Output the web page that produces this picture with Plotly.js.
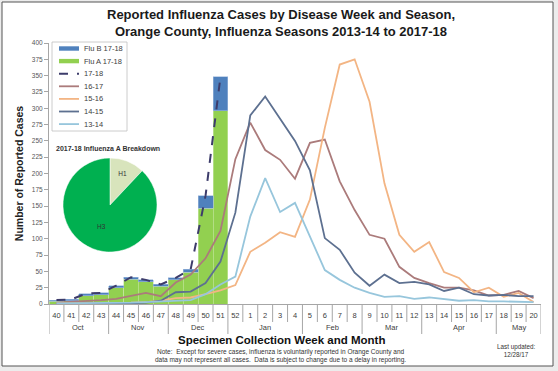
<!DOCTYPE html>
<html>
<head>
<meta charset="utf-8">
<script src="https://cdn.plot.ly/plotly-3.0.1.min.js"></script>
<style>
html,body{margin:0;padding:0;background:#ececec;}
#chart{width:558px;height:371px;}
</style>
</head>
<body>
<div id="chart"></div>
<script>
// ---- data ----
const weeks = ['40','41','42','43','44','45','46','47','48','49','50','51','52',
  '1','2','3','4','5','6','7','8','9','10','11','12','13','14','15','16','17','18','19','20'];
const months = ['Oct','Nov','Dec','Jan','Feb','Mar','Apr','May'];
const monthWeekCounts = [4,4,4,5,4,4,5,3];

const barWeeks = ['40','41','42','43','44','45','46','47','48','49','50','51'];
const fluA1718 = [4,5,13,14,25,38,34,27,37,49,147,296];
const fluB1718 = [2,2,3,3,3,3,3,3,3,4,19,52];
const s1718 = [6,7,16,17,28,41,37,30,40,53,166,348];

const s1617 = [2,3,5,6,8,12,17,12,33,45,70,112,222,278,236,221,192,247,252,188,144,106,100,57,40,32,25,25,21,13,14,20,9];
const s1516 = [1,1,2,2,1,2,3,5,9,10,15,21,29,80,94,110,103,160,270,367,375,310,185,106,80,95,49,40,18,25,11,17,3];
const s1415 = [0,0,1,1,1,1,2,5,18,19,32,65,140,289,318,283,250,205,101,83,48,28,45,32,34,30,20,25,15,13,14,12,12];
const s1314 = [1,1,1,2,1,2,3,4,5,6,15,30,42,134,193,141,155,103,52,37,25,17,11,12,8,10,7,5,6,4,4,3,3];

const pieLabels = ['H1','H3'];
const pieValues = [12,88];

const lineNames = ['17-18','16-17','15-16','14-15','13-14'];
const lineColors = ['#3d3c6b','#ab7b7b','#f3b584','#5d7090','#97c6dc'];

// ---- geometry helpers (plot area in px) ----
const L = 49, R = 541, T = 43, B = 304;
const px = x => (x - L) / (R - L);
const py = y => (B - y) / (B - T);
const FONT = 'Liberation Sans, Arial, sans-serif';

const traces = [];
traces.push({type:'bar', x:barWeeks, y:fluA1718, name:'Flu A 17-18',
  marker:{color:'#92d050', line:{color:'#c9e8a6', width:0.6}}, showlegend:false});
traces.push({type:'bar', x:barWeeks, y:fluB1718, name:'Flu B 17-18',
  marker:{color:'#4f81bd', line:{color:'#9fb9dc', width:0.6}}, showlegend:false});
const lineData = [s1718, s1617, s1516, s1415, s1314];
lineData.forEach((d,k)=>{
  traces.push({type:'scatter', mode:'lines', x: weeks.slice(0,d.length), y:d, name:lineNames[k],
    line:{color:lineColors[k], width: k===0?2:1.8, dash: k===0?'dash':'solid'}, showlegend:false});
});
traces.push({type:'pie', labels:pieLabels, values:pieValues, sort:false, direction:'clockwise',
  rotation:0, textinfo:'label', textposition:'inside', insidetextorientation:'horizontal',
  textfont:{size:6.5, color:'#333', family:FONT},
  marker:{colors:['#d8e4bc','#00b050'], line:{color:'#ffffff', width:0.5}},
  domain:{x:[px(63),px(157)], y:[py(252),py(158)]}, showlegend:false, hoverinfo:'none'});

const shapes = [];
const annotations = [];
function note(x, y, text, size, color, extra) {
  annotations.push(Object.assign({xref:'paper', yref:'paper', x:px(x), y:py(y), xanchor:'center', yanchor:'middle',
    text:text, showarrow:false, font:{size:size, color:color, family:FONT}}, extra||{}));
}
// frame
shapes.push({type:'rect', xref:'paper', yref:'paper', x0:px(2), x1:px(553), y0:py(366), y1:py(2),
  fillcolor:'#ffffff', line:{color:'#555', width:1}, layer:'below'});
// week / month separators
const monthStarts = new Set();
let acc = 0;
monthWeekCounts.forEach((c,m)=>{
  monthStarts.add(acc);
  annotations.push({xref:'x', yref:'paper', x: acc + (c-1)/2, y: py(328), xanchor:'center', yanchor:'middle',
    text: months[m], showarrow:false, font:{size:7.5, color:'#404040', family:FONT}});
  acc += c;
});
monthStarts.add(acc);
for (let b = 0; b <= weeks.length; b++) {
  const long = monthStarts.has(b);
  shapes.push({type:'line', xref:'x', yref:'paper', x0:b-0.5, x1:b-0.5, y0:0, y1: long? py(334): py(322),
    line:{color:'#a6a6a6', width:1}});
}
// manual legend
const legItems = [
  {name:'Flu B 17-18', color:'#4f81bd', kind:'bar'},
  {name:'Flu A 17-18', color:'#92d050', kind:'bar'}
].concat(lineNames.map((n,k)=>({name:n, color:lineColors[k], kind: k===0?'dash':'line'})));
shapes.push({type:'rect', xref:'paper', yref:'paper', x0:px(52), x1:px(127), y0:py(131), y1:py(42),
  fillcolor:'#ffffff', line:{color:'#bfbfbf', width:0.8}});
legItems.forEach((it,i)=>{
  const yy = 48.5 + i*12.6;
  if (it.kind==='bar') {
    shapes.push({type:'rect', xref:'paper', yref:'paper', x0:px(59), x1:px(79), y0:py(yy+2.2), y1:py(yy-2.2),
      fillcolor:it.color, line:{width:0}});
  } else {
    shapes.push({type:'line', xref:'paper', yref:'paper', x0:px(59), x1:px(79), y0:py(yy), y1:py(yy),
      line:{color:it.color, width:it.kind==='dash'?2:1.8, dash: it.kind==='dash'?'dash':'solid'}});
  }
  note(82, yy, it.name, 7.5, '#404040', {xanchor:'left'});
});
// title
note(281, 22.5, '<b>Reported Influenza Cases by Disease Week and Season,<br>Orange County, Influenza Seasons 2013-14 to 2017-18</b>', 13, '#1a1a1a');
// pie title
note(108, 148, '<b>2017-18 Influenza A Breakdown</b>', 7, '#333');
// x axis title
note(281, 340, '<b>Specimen Collection Week and Month</b>', 11.5, '#111');
// notes
note(280, 356, 'Note:  Except for severe cases, influenza is voluntarily reported in Orange County and<br>data may not represent all cases.  Data is subject to change due to a delay in reporting.', 6.5, '#333');
note(516, 350, 'Last updated:<br>12/28/17', 6.3, '#333');

const layout = {
  width:558, height:371,
  margin:{l:L, r:558-R, t:T, b:371-B, pad:0},
  paper_bgcolor:'#ececec', plot_bgcolor:'rgba(0,0,0,0)',
  font:{family:FONT},
  barmode:'stack', bargap:0,
  showlegend:false,
  xaxis:{type:'category', categoryorder:'array', categoryarray:weeks, range:[-0.5, weeks.length-0.5],
    showline:true, linecolor:'#a6a6a6', linewidth:1, ticks:'', showgrid:false, zeroline:false,
    ticklabelstandoff:4,
    tickfont:{size:7.5, color:'#404040', family:FONT}, fixedrange:true},
  yaxis:{range:[0,400], dtick:25, ticks:'outside', ticklen:4, tickcolor:'#a6a6a6',
    showline:true, linecolor:'#a6a6a6', linewidth:1, showgrid:false, zeroline:false,
    tickfont:{size:6.5, color:'#555', family:FONT},
    title:{text:'<b>Number of Reported Cases</b>', font:{size:10.5, color:'#222', family:FONT}, standoff:6}},
  shapes: shapes,
  annotations: annotations
};
Plotly.newPlot('chart', traces, layout, {staticPlot:true, displayModeBar:false});
</script>
</body>
</html>
